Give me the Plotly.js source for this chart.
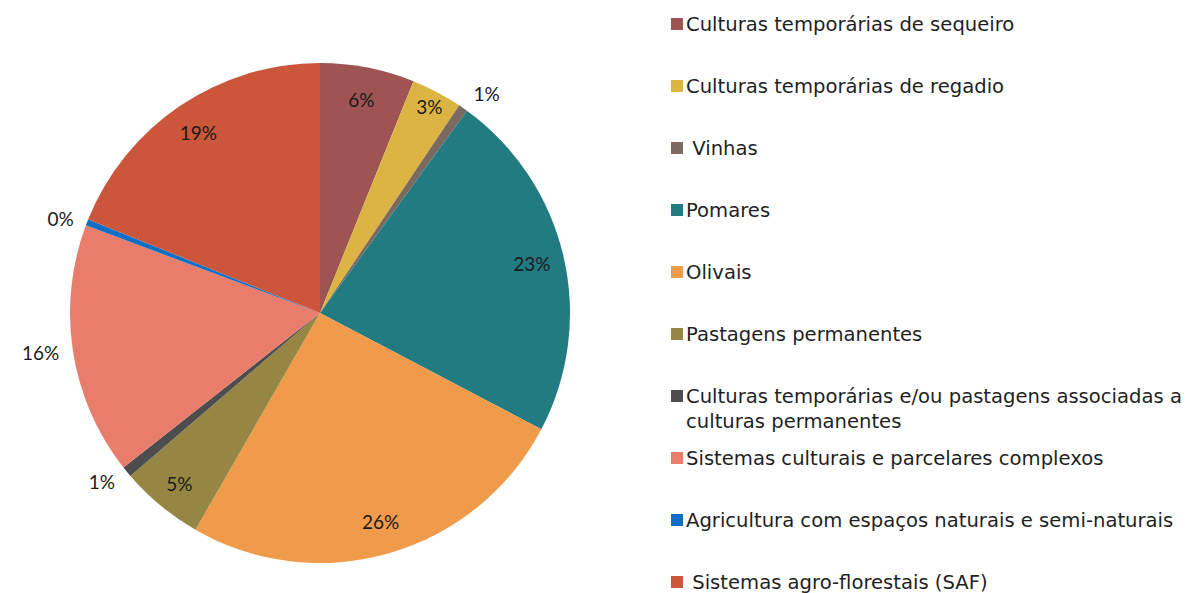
<!DOCTYPE html>
<html>
<head>
<meta charset="utf-8">
<script src="https://cdn.plot.ly/plotly-3.0.1.min.js"></script>
<style>html,body{margin:0;padding:0;background:#fff;}#chart{width:1189px;height:593px;}</style>
</head>
<body>
<div id="chart"></div>
<script>
const categories = [
  "Culturas temporárias de sequeiro",
  "Culturas temporárias de regadio",
  "\u00a0Vinhas",
  "Pomares",
  "Olivais",
  "Pastagens permanentes",
  "Culturas temporárias e/ou pastagens associadas a<br>culturas permanentes",
  "Sistemas culturais e parcelares complexos",
  "Agricultura com espaços naturais e semi-naturais",
  "\u00a0Sistemas agro-florestais (SAF)"
];
const shares = [6.1, 3.3, 0.6, 22.7, 25.6, 5.4, 0.7, 16.3, 0.4, 18.9];
const colors = ["#9E5453", "#DBB444", "#7A6A60", "#237B82", "#EF9B4B",
                "#958643", "#4D4D4D", "#E87D6B", "#0F6FC6", "#CB563B"];
const labelPositions = ["inside","inside","outside","inside","inside",
                        "inside","outside","outside","outside","inside"];

const W = 1189, H = 593;
const cx = 320, cy = 313, R = 250, R2 = 258;
const labelFont = {family: "Lato, sans-serif", size: 19, color: "#1a1a1a"};

// the coloured pie (no text)
const basePie = {
  type: "pie",
  labels: categories,
  values: shares,
  sort: false,
  direction: "clockwise",
  rotation: 0,
  marker: {colors: colors, line: {color: "#ffffff", width: 0}},
  textinfo: "none",
  hoverinfo: "label+percent",
  showlegend: false,
  domain: {x: [(cx - R) / W, (cx + R) / W], y: [1 - (cy + R) / H, 1 - (cy - R) / H]}
};
// transparent ring on top that carries the percentage labels further out
const labelRing = {
  type: "pie",
  labels: categories,
  values: shares,
  sort: false,
  direction: "clockwise",
  rotation: 0,
  hole: 0.686,
  marker: {colors: categories.map(() => "rgba(0,0,0,0)"), line: {width: 0}},
  texttemplate: "%{percent:.0%}",
  textposition: labelPositions,
  insidetextorientation: "horizontal",
  textfont: labelFont,
  outsidetextfont: labelFont,
  hoverinfo: "skip",
  showlegend: false,
  domain: {x: [(cx - R2) / W, (cx + R2) / W], y: [1 - (cy + R2) / H, 1 - (cy - R2) / H]}
};

const annotations = [];
const shapes = [];
categories.forEach((c, i) => {
  const yc = 24 + i * 62;
  annotations.push({
    xref: "paper", yref: "paper",
    x: 684 / W, y: 1 - (yc - 13) / H,
    xanchor: "left", yanchor: "top", align: "left",
    text: c, showarrow: false,
    font: {family: "DejaVu Sans, sans-serif", size: 19.6, color: "#1f1f1f"}
  });
  shapes.push({
    type: "rect", xref: "paper", yref: "paper",
    x0: 671 / W, x1: 683 / W,
    y0: 1 - (yc + 6) / H, y1: 1 - (yc - 6) / H,
    fillcolor: colors[i], line: {width: 0}
  });
});

const layout = {
  width: W, height: H,
  margin: {l: 0, r: 0, t: 0, b: 0},
  paper_bgcolor: "#ffffff",
  showlegend: false,
  annotations: annotations,
  shapes: shapes
};
Plotly.newPlot("chart", [basePie, labelRing], layout, {displayModeBar: false, staticPlot: true});
</script>
</body>
</html>
